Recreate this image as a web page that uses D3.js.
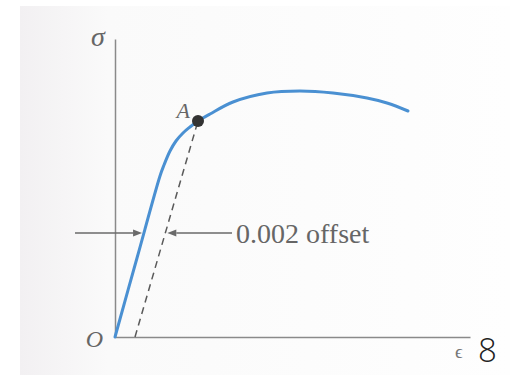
<!DOCTYPE html>
<html>
<head>
<meta charset="utf-8">
<script src="https://cdn.jsdelivr.net/npm/d3@7/dist/d3.min.js"></script>
<style>
  html, body { margin: 0; padding: 0; background: #ffffff; }
  svg { display: block; }
</style>
</head>
<body>
<svg id="chart" width="510" height="375"></svg>
<script>
// Stress–strain curve of a ductile metal with the 0.002 offset construction
const strain = [0, 0.0022, 0.0045, 0.0049, 0.0055, 0.0061, 0.0068, 0.0075, 0.0083,
                0.0095, 0.0118, 0.0152, 0.0185, 0.0218, 0.0252, 0.0272, 0.0293];
const stress = [0, 79, 161, 172, 186, 196, 204, 210, 216,
                223, 235, 244, 246, 244, 239, 234, 226];

// Offset construction: yield point A and the 0.002 offset strain
const offsetStrain = 0.002;
const yieldPoint = { strain: 0.0083, stress: 216, label: "A" };
const arrowStress = 104;          // stress level at which the offset is dimensioned

// Labels
const axisLabels = { stress: "σ", strain: "ϵ", origin: "O" };
const offsetLabel = "0.002 offset";
const figureNumber = "8";

const svg = d3.select("#chart");
const W = 510, H = 375;

// Faint paper tone
const defs = svg.append("defs");
const grad = defs.append("linearGradient").attr("id", "paper")
  .attr("x1", "0").attr("x2", "1").attr("y1", "0").attr("y2", "0");
grad.append("stop").attr("offset", "0").attr("stop-color", "#f2f0f2");
grad.append("stop").attr("offset", "0.18").attr("stop-color", "#fafafa");
grad.append("stop").attr("offset", "1").attr("stop-color", "#fefefe");
svg.append("rect").attr("x", 20).attr("y", 6).attr("width", W - 20).attr("height", H - 6)
  .attr("fill", "url(#paper)");

const x = d3.scaleLinear().domain([0, 0.0355]).range([115, 470]);
const y = d3.scaleLinear().domain([0, 298]).range([337, 39]);

const axisColor = "#8a8a8a";
const gx = svg.append("g").attr("transform", `translate(0,${y(0)})`)
  .call(d3.axisBottom(x).tickValues([]).tickSizeOuter(0));
const gy = svg.append("g").attr("transform", `translate(${x(0)},0)`)
  .call(d3.axisLeft(y).tickValues([]).tickSizeOuter(0));
[gx, gy].forEach(g => g.select(".domain").attr("stroke", axisColor).attr("stroke-width", 1.5));

// Offset line from 0.002 strain up to A
const dashColor = "#5a5a5a";
svg.append("line")
  .attr("x1", x(offsetStrain)).attr("y1", y(0))
  .attr("x2", x(yieldPoint.strain)).attr("y2", y(yieldPoint.stress))
  .attr("stroke", dashColor).attr("stroke-width", 1.5)
  .attr("stroke-dasharray", "7,5");

// Stress–strain curve
const pts = strain.map((s, i) => [s, stress[i]]);
const line = d3.line().x(d => x(d[0])).y(d => y(d[1])).curve(d3.curveCatmullRom.alpha(0.5));
svg.append("path").datum(pts)
  .attr("d", line)
  .attr("fill", "none")
  .attr("stroke", "#4a90d2")
  .attr("stroke-width", 3)
  .attr("stroke-linecap", "round");

// Yield point A
svg.append("circle")
  .attr("cx", x(yieldPoint.strain)).attr("cy", y(yieldPoint.stress))
  .attr("r", 6).attr("fill", "#333");

// Dimension arrows for the offset
const E = stress[2] / strain[2];
const offsetSlope = yieldPoint.stress / (yieldPoint.strain - offsetStrain);
const blueX = x(arrowStress / E);
const dashX = x(offsetStrain + arrowStress / offsetSlope);
const ay = y(arrowStress);
const arrowColor = "#6a6a6a";

function arrow(fromX, tipX) {
  const dir = Math.sign(tipX - fromX);
  const headLen = 9, headHalf = 3.5;
  svg.append("line")
    .attr("x1", fromX).attr("y1", ay).attr("x2", tipX - dir * headLen).attr("y2", ay)
    .attr("stroke", arrowColor).attr("stroke-width", 1.3);
  svg.append("path")
    .attr("d", `M${tipX},${ay} L${tipX - dir * headLen},${ay - headHalf} L${tipX - dir * headLen},${ay + headHalf} Z`)
    .attr("fill", arrowColor);
}
arrow(75, blueX - 2);
arrow(232, dashX + 2);

svg.append("text")
  .attr("x", 236).attr("y", ay + 10)
  .attr("font-family", "'Liberation Serif', 'Times New Roman', serif")
  .attr("font-size", 28).attr("fill", "#666")
  .text(offsetLabel);

// Axis and point labels
const italicSerif = "'Liberation Serif', 'DejaVu Serif', serif";
const labelColor = "#666";
svg.append("text").attr("x", 98).attr("y", 46).attr("text-anchor", "middle")
  .attr("font-family", italicSerif).attr("font-style", "italic")
  .attr("font-size", 28).attr("fill", labelColor).text(axisLabels.stress);
svg.append("text").attr("x", x(0) - 12).attr("y", 347).attr("text-anchor", "end")
  .attr("font-family", italicSerif).attr("font-style", "italic")
  .attr("font-size", 24).attr("fill", labelColor).text(axisLabels.origin);
svg.append("text").attr("x", x(yieldPoint.strain) - 8).attr("y", y(yieldPoint.stress) - 3)
  .attr("text-anchor", "end")
  .attr("font-family", italicSerif).attr("font-style", "italic")
  .attr("font-size", 22).attr("fill", labelColor).text(yieldPoint.label);
svg.append("text").attr("x", 455).attr("y", 358)
  .attr("font-family", italicSerif)
  .attr("font-size", 19).attr("fill", "#777").text(axisLabels.strain);

svg.append("text").attr("x", 478).attr("y", 362)
  .attr("font-family", "'Open Sans', 'Lato', sans-serif").attr("font-weight", 300)
  .attr("font-size", 33).attr("fill", "#222").text(figureNumber);
</script>
</body>
</html>
